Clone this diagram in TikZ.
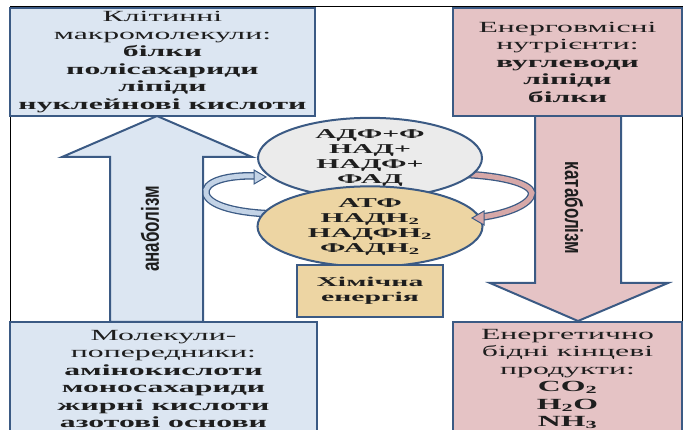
\documentclass[tikz,border=0pt]{standalone}
\usepackage{fontspec}
\setmainfont{Liberation Serif}
\newfontfamily\wide[FakeStretch=2.05]{Liberation Serif}
\newfontfamily\wider[FakeStretch=2.2]{Liberation Serif}
\newfontfamily\lbl{Liberation Sans}
\usetikzlibrary{shapes.geometric}
\definecolor{bord}{HTML}{3B5A84}
\definecolor{bluef}{HTML}{DCE6F2}
\definecolor{blueb}{HTML}{C3D3E6}
\definecolor{pinkf}{HTML}{E5C3C5}
\definecolor{pinkb}{HTML}{D6A8A8}
\definecolor{tanf}{HTML}{EDD5A3}
\definecolor{greyf}{HTML}{EBEBEB}
\definecolor{txt}{HTML}{1E1E1E}
\begin{document}
\begin{tikzpicture}[x=1pt,y=-1pt,
  bx/.style={draw=bord, line width=2pt, inner sep=0pt, align=center, text=txt,
             font=\wide\fontsize{15.5}{17.5}\selectfont},
  ell/.style={ellipse, draw=bord, line width=2pt, inner sep=0pt, align=center, text=txt,
             font=\wider\bfseries\fontsize{13.5}{15}\selectfont},
  blk/.style={draw=bord, line width=2pt, line join=miter},
  band/.style={draw=bord, line width=1.3pt, double distance=5pt},
  rot/.style={text=txt, inner sep=0pt, font=\lbl\bfseries\fontsize{17}{20}\selectfont}]
\useasboundingbox (0,0) rectangle (683,430);
\draw[black, line width=0.8pt] (10,6) rectangle (682,440);

% block arrows
\draw[blk, fill=bluef] (110,322) -- (110,157) -- (62,157) -- (157,116) -- (252,157) -- (203,157) -- (203,322) -- cycle;
\draw[blk, fill=pinkf] (535,116) -- (535,283) -- (490,283) -- (578,321) -- (668,283) -- (621,283) -- (621,116) -- cycle;
\node[rot, rotate=90] (ana) at (150,229) {\scalebox{1}[1.45]{анаболізм}};
\node[rot, rotate=-90] (kat) at (574,208) {\scalebox{1}[1.45]{катаболізм}};

% boxes
\node[bx, fill=bluef, minimum width=305, minimum height=108] (tl) at (162.5,62)
  {Клітинні\\макромолекули:\\\textbf{білки}\\\textbf{полісахариди}\\\textbf{ліпіди}\\\textbf{нуклейнові кислоти}};
\node[bx, fill=pinkf, minimum width=229, minimum height=108] (tr) at (567.5,62)
  {Енерговмісні\\нутрієнти:\\\textbf{вуглеводи}\\\textbf{ліпіди}\\\textbf{білки}};
\node[bx, fill=bluef, minimum width=307, minimum height=114] (bl) at (163.5,379)
  {Молекули-\\попередники:\\\textbf{амінокислоти}\\\textbf{моносахариди}\\\textbf{жирні кислоти}\\\textbf{азотові основи}};
\node[bx, fill=pinkf, minimum width=229, minimum height=114] (br) at (567.5,379)
  {Енергетично\\бідні кінцеві\\продукти:\\\textbf{CO\textsubscript{2}}\\\textbf{H\textsubscript{2}O}\\\textbf{NH\textsubscript{3}}};

% curved bands
\draw[band, double=blueb] (276,214) .. controls (230,213) and (203,203) .. (206,190) .. controls (209,179) and (235,175) .. (256,176);
\draw[band, double=pinkb] (455,174) .. controls (500,175) and (530,183) .. (532,193) .. controls (531,205) and (505,214) .. (482,217);

% ellipses
\node[ell, fill=greyf, minimum width=224, minimum height=60] (top) at (370,158)
  {АДФ+Ф\\НАД+\\НАДФ+\\ФАД};
\node[ell, fill=tanf, minimum width=225, minimum height=63] (bot) at (370,226.5)
  {АТФ\\НАДН\textsubscript{2}\\НАДФН\textsubscript{2}\\ФАДН\textsubscript{2}};

% heads
\draw[bord, line width=1pt, line join=miter, fill=blueb] (266,177) -- (254,170) -- (254,184) -- cycle;
\draw[bord, line width=1pt, line join=miter, fill=pinkb] (472,218) -- (484,211) -- (484,225) -- cycle;

\node[bx, fill=tanf, minimum width=146, minimum height=52,
      font=\wider\bfseries\fontsize{13.5}{15}\selectfont] (chem) at (370,291) {Хімічна\\енергія};
\end{tikzpicture}
\end{document}
